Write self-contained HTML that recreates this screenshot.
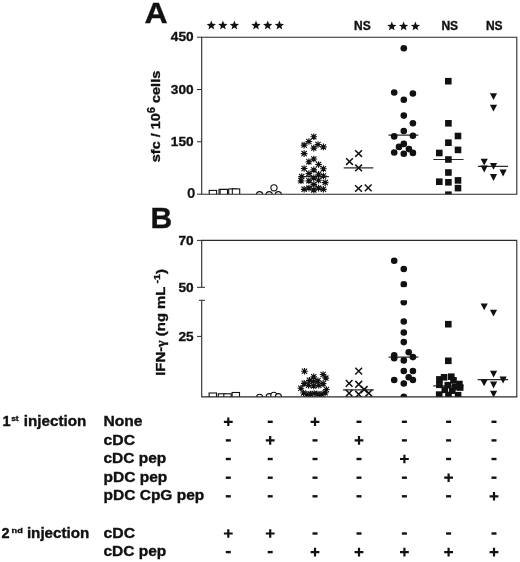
<!DOCTYPE html>
<html><head><meta charset="utf-8"><title>Figure</title>
<style>
html,body{margin:0;padding:0;background:#fff;}
svg{display:block;filter:grayscale(1);}
text{font-family:"Liberation Sans",sans-serif;font-weight:bold;fill:#111;stroke:#111;stroke-width:0.35px;}
</style></head>
<body>
<svg width="520" height="562" viewBox="0 0 520 562">
<rect width="520" height="562" fill="#fff"/>
<clipPath id="ca"><rect x="201.7" y="37.2" width="315.09999999999997" height="157.0"/></clipPath>
<clipPath id="cb"><rect x="201.7" y="240.4" width="315.09999999999997" height="46.900000000000006"/><rect x="201.7" y="300.3" width="315.09999999999997" height="96.59999999999997"/></clipPath>
<g clip-path="url(#ca)">
<rect x="209.2" y="190.4" width="7.4" height="7.4" fill="#fff" stroke="#111" stroke-width="1.1"/>
<rect x="219.0" y="189.4" width="7.4" height="7.4" fill="#fff" stroke="#111" stroke-width="1.1"/>
<rect x="220.1" y="189.4" width="7.4" height="7.4" fill="#fff" stroke="#111" stroke-width="1.1"/>
<rect x="228.7" y="188.9" width="7.4" height="7.4" fill="#fff" stroke="#111" stroke-width="1.1"/>
<rect x="232.3" y="188.9" width="7.4" height="7.4" fill="#fff" stroke="#111" stroke-width="1.1"/>
<circle cx="259.6" cy="194.7" r="3.1" fill="#fff" stroke="#111" stroke-width="1.1"/>
<circle cx="269.2" cy="194.7" r="3.1" fill="#fff" stroke="#111" stroke-width="1.1"/>
<circle cx="278.3" cy="194.7" r="3.1" fill="#fff" stroke="#111" stroke-width="1.1"/>
<circle cx="274.0" cy="187.8" r="3.1" fill="#fff" stroke="#111" stroke-width="1.1"/>
<path d="M298.6 176.6H328.9" stroke="#2a2a2a" stroke-width="1.2"/>
<path d="M310.5 136.7H317.1M313.8 133.4V140.0M311.2 134.1L316.4 139.3M311.2 139.3L316.4 134.1" stroke="#111" stroke-width="1.15" fill="none"/>
<circle cx="313.8" cy="136.7" r="1.5" fill="#111"/>
<path d="M305.6 141.5H312.2M308.9 138.2V144.8M306.3 138.9L311.5 144.1M306.3 144.1L311.5 138.9" stroke="#111" stroke-width="1.15" fill="none"/>
<circle cx="308.9" cy="141.5" r="1.5" fill="#111"/>
<path d="M300.8 145.1H307.4M304.1 141.8V148.4M301.5 142.5L306.7 147.7M301.5 147.7L306.7 142.5" stroke="#111" stroke-width="1.15" fill="none"/>
<circle cx="304.1" cy="145.1" r="1.5" fill="#111"/>
<path d="M314.7 144.5H321.3M318.0 141.2V147.8M315.4 141.9L320.6 147.1M315.4 147.1L320.6 141.9" stroke="#111" stroke-width="1.15" fill="none"/>
<circle cx="318.0" cy="144.5" r="1.5" fill="#111"/>
<path d="M320.1 146.9H326.7M323.4 143.6V150.2M320.8 144.3L326.0 149.5M320.8 149.5L326.0 144.3" stroke="#111" stroke-width="1.15" fill="none"/>
<circle cx="323.4" cy="146.9" r="1.5" fill="#111"/>
<path d="M310.5 148.1H317.1M313.8 144.8V151.4M311.2 145.5L316.4 150.7M311.2 150.7L316.4 145.5" stroke="#111" stroke-width="1.15" fill="none"/>
<circle cx="313.8" cy="148.1" r="1.5" fill="#111"/>
<path d="M300.8 153.6H307.4M304.1 150.3V156.9M301.5 151.0L306.7 156.2M301.5 156.2L306.7 151.0" stroke="#111" stroke-width="1.15" fill="none"/>
<circle cx="304.1" cy="153.6" r="1.5" fill="#111"/>
<path d="M310.5 159.0H317.1M313.8 155.7V162.3M311.2 156.4L316.4 161.6M311.2 161.6L316.4 156.4" stroke="#111" stroke-width="1.15" fill="none"/>
<circle cx="313.8" cy="159.0" r="1.5" fill="#111"/>
<path d="M305.6 161.7H312.2M308.9 158.4V165.0M306.3 159.1L311.5 164.3M306.3 164.3L311.5 159.1" stroke="#111" stroke-width="1.15" fill="none"/>
<circle cx="308.9" cy="161.7" r="1.5" fill="#111"/>
<path d="M315.3 164.5H321.9M318.6 161.2V167.8M316.0 161.9L321.2 167.1M316.0 167.1L321.2 161.9" stroke="#111" stroke-width="1.15" fill="none"/>
<circle cx="318.6" cy="164.5" r="1.5" fill="#111"/>
<path d="M300.8 168.5H307.4M304.1 165.2V171.8M301.5 165.9L306.7 171.1M301.5 171.1L306.7 165.9" stroke="#111" stroke-width="1.15" fill="none"/>
<circle cx="304.1" cy="168.5" r="1.5" fill="#111"/>
<path d="M320.1 168.7H326.7M323.4 165.4V172.0M320.8 166.1L326.0 171.3M320.8 171.3L326.0 166.1" stroke="#111" stroke-width="1.15" fill="none"/>
<circle cx="323.4" cy="168.7" r="1.5" fill="#111"/>
<path d="M310.5 169.9H317.1M313.8 166.6V173.2M311.2 167.3L316.4 172.5M311.2 172.5L316.4 167.3" stroke="#111" stroke-width="1.15" fill="none"/>
<circle cx="313.8" cy="169.9" r="1.5" fill="#111"/>
<path d="M305.6 173.6H312.2M308.9 170.3V176.9M306.3 171.0L311.5 176.2M306.3 176.2L311.5 171.0" stroke="#111" stroke-width="1.15" fill="none"/>
<circle cx="308.9" cy="173.6" r="1.5" fill="#111"/>
<path d="M315.3 174.2H321.9M318.6 170.9V177.5M316.0 171.6L321.2 176.8M316.0 176.8L321.2 171.6" stroke="#111" stroke-width="1.15" fill="none"/>
<circle cx="318.6" cy="174.2" r="1.5" fill="#111"/>
<path d="M298.4 176.6H305.0M301.7 173.3V179.9M299.1 174.0L304.3 179.2M299.1 179.2L304.3 174.0" stroke="#111" stroke-width="1.15" fill="none"/>
<circle cx="301.7" cy="176.6" r="1.5" fill="#111"/>
<path d="M320.1 176.0H326.7M323.4 172.7V179.3M320.8 173.4L326.0 178.6M320.8 178.6L326.0 173.4" stroke="#111" stroke-width="1.15" fill="none"/>
<circle cx="323.4" cy="176.0" r="1.5" fill="#111"/>
<path d="M310.5 177.8H317.1M313.8 174.5V181.1M311.2 175.2L316.4 180.4M311.2 180.4L316.4 175.2" stroke="#111" stroke-width="1.15" fill="none"/>
<circle cx="313.8" cy="177.8" r="1.5" fill="#111"/>
<path d="M297.7 180.8H304.3M301.0 177.5V184.1M298.4 178.2L303.6 183.4M298.4 183.4L303.6 178.2" stroke="#111" stroke-width="1.15" fill="none"/>
<circle cx="301.0" cy="180.8" r="1.5" fill="#111"/>
<path d="M305.6 180.8H312.2M308.9 177.5V184.1M306.3 178.2L311.5 183.4M306.3 183.4L311.5 178.2" stroke="#111" stroke-width="1.15" fill="none"/>
<circle cx="308.9" cy="180.8" r="1.5" fill="#111"/>
<path d="M315.3 180.2H321.9M318.6 176.9V183.5M316.0 177.6L321.2 182.8M316.0 182.8L321.2 177.6" stroke="#111" stroke-width="1.15" fill="none"/>
<circle cx="318.6" cy="180.2" r="1.5" fill="#111"/>
<path d="M321.9 182.6H328.5M325.2 179.3V185.9M322.6 180.0L327.8 185.2M322.6 185.2L327.8 180.0" stroke="#111" stroke-width="1.15" fill="none"/>
<circle cx="325.2" cy="182.6" r="1.5" fill="#111"/>
<path d="M310.5 184.4H317.1M313.8 181.1V187.7M311.2 181.8L316.4 187.0M311.2 187.0L316.4 181.8" stroke="#111" stroke-width="1.15" fill="none"/>
<circle cx="313.8" cy="184.4" r="1.5" fill="#111"/>
<path d="M300.8 189.3H307.4M304.1 186.0V192.6M301.5 186.7L306.7 191.9M301.5 191.9L306.7 186.7" stroke="#111" stroke-width="1.15" fill="none"/>
<circle cx="304.1" cy="189.3" r="1.5" fill="#111"/>
<path d="M305.6 188.1H312.2M308.9 184.8V191.4M306.3 185.5L311.5 190.7M306.3 190.7L311.5 185.5" stroke="#111" stroke-width="1.15" fill="none"/>
<circle cx="308.9" cy="188.1" r="1.5" fill="#111"/>
<path d="M315.3 188.1H321.9M318.6 184.8V191.4M316.0 185.5L321.2 190.7M316.0 190.7L321.2 185.5" stroke="#111" stroke-width="1.15" fill="none"/>
<circle cx="318.6" cy="188.1" r="1.5" fill="#111"/>
<path d="M320.1 189.3H326.7M323.4 186.0V192.6M320.8 186.7L326.0 191.9M320.8 191.9L326.0 186.7" stroke="#111" stroke-width="1.15" fill="none"/>
<circle cx="323.4" cy="189.3" r="1.5" fill="#111"/>
<path d="M310.5 189.9H317.1M313.8 186.6V193.2M311.2 187.3L316.4 192.5M311.2 192.5L316.4 187.3" stroke="#111" stroke-width="1.15" fill="none"/>
<circle cx="313.8" cy="189.9" r="1.5" fill="#111"/>
<path d="M343.7 167.8H373.3" stroke="#2a2a2a" stroke-width="1.2"/>
<path d="M355.2 150.2L362.0 156.9M355.2 156.9L362.0 150.2" stroke="#111" stroke-width="1.5" fill="none"/>
<path d="M346.1 158.2L352.9 164.9M346.1 164.9L352.9 158.2" stroke="#111" stroke-width="1.5" fill="none"/>
<path d="M355.2 164.6L362.0 171.2M355.2 171.2L362.0 164.6" stroke="#111" stroke-width="1.5" fill="none"/>
<path d="M355.1 185.2L361.9 191.8M355.1 191.8L361.9 185.2" stroke="#111" stroke-width="1.5" fill="none"/>
<path d="M364.8 184.5L371.6 191.2M364.8 191.2L371.6 184.5" stroke="#111" stroke-width="1.5" fill="none"/>
<path d="M388.5 135.2H418.3" stroke="#2a2a2a" stroke-width="1.2"/>
<circle cx="403.8" cy="48.3" r="3.3" fill="#111"/>
<circle cx="394.2" cy="92.5" r="3.3" fill="#111"/>
<circle cx="412.9" cy="93.5" r="3.3" fill="#111"/>
<circle cx="403.8" cy="99.8" r="3.3" fill="#111"/>
<circle cx="403.8" cy="115.6" r="3.3" fill="#111"/>
<circle cx="412.9" cy="123.3" r="3.3" fill="#111"/>
<circle cx="403.8" cy="131.0" r="3.3" fill="#111"/>
<circle cx="394.2" cy="136.4" r="3.3" fill="#111"/>
<circle cx="412.9" cy="135.8" r="3.3" fill="#111"/>
<circle cx="403.8" cy="143.9" r="3.3" fill="#111"/>
<circle cx="399.0" cy="146.9" r="3.3" fill="#111"/>
<circle cx="408.9" cy="149.1" r="3.3" fill="#111"/>
<circle cx="394.2" cy="152.5" r="3.3" fill="#111"/>
<circle cx="403.8" cy="153.7" r="3.3" fill="#111"/>
<circle cx="412.9" cy="152.9" r="3.3" fill="#111"/>
<path d="M433.3 159.5H463.5" stroke="#2a2a2a" stroke-width="1.2"/>
<rect x="445.0" y="77.9" width="6.6" height="6.6" fill="#111"/>
<rect x="445.1" y="120.0" width="6.6" height="6.6" fill="#111"/>
<rect x="454.7" y="132.7" width="6.6" height="6.6" fill="#111"/>
<rect x="445.1" y="139.4" width="6.6" height="6.6" fill="#111"/>
<rect x="454.7" y="146.6" width="6.6" height="6.6" fill="#111"/>
<rect x="436.0" y="149.7" width="6.6" height="6.6" fill="#111"/>
<rect x="445.1" y="156.2" width="6.6" height="6.6" fill="#111"/>
<rect x="445.1" y="169.2" width="6.6" height="6.6" fill="#111"/>
<rect x="436.0" y="178.4" width="6.6" height="6.6" fill="#111"/>
<rect x="445.1" y="179.0" width="6.6" height="6.6" fill="#111"/>
<rect x="454.7" y="177.1" width="6.6" height="6.6" fill="#111"/>
<rect x="454.7" y="184.8" width="6.6" height="6.6" fill="#111"/>
<rect x="445.1" y="191.4" width="6.6" height="6.6" fill="#111"/>
<path d="M477.9 166.4H508.0" stroke="#2a2a2a" stroke-width="1.2"/>
<path d="M489.9 93.3H497.1L493.5 100.1Z" fill="#111"/>
<path d="M489.9 104.8H497.1L493.5 111.6Z" fill="#111"/>
<path d="M480.6 158.8H487.8L484.2 165.6Z" fill="#111"/>
<path d="M489.9 163.0H497.1L493.5 169.8Z" fill="#111"/>
<path d="M480.6 165.6H487.8L484.2 172.4Z" fill="#111"/>
<path d="M499.5 169.6H506.7L503.1 176.4Z" fill="#111"/>
<path d="M489.9 174.1H497.1L493.5 180.9Z" fill="#111"/>
</g>
<g clip-path="url(#cb)">
<rect x="209.1" y="393.0" width="7.4" height="7.4" fill="#fff" stroke="#111" stroke-width="1.1"/>
<rect x="218.3" y="393.8" width="7.4" height="7.4" fill="#fff" stroke="#111" stroke-width="1.1"/>
<rect x="223.8" y="393.8" width="7.4" height="7.4" fill="#fff" stroke="#111" stroke-width="1.1"/>
<rect x="232.1" y="392.5" width="7.4" height="7.4" fill="#fff" stroke="#111" stroke-width="1.1"/>
<circle cx="259.6" cy="397.3" r="3.0" fill="#fff" stroke="#111" stroke-width="1.1"/>
<circle cx="269.2" cy="396.6" r="3.0" fill="#fff" stroke="#111" stroke-width="1.1"/>
<circle cx="273.8" cy="395.3" r="3.0" fill="#fff" stroke="#111" stroke-width="1.1"/>
<circle cx="278.4" cy="396.6" r="3.0" fill="#fff" stroke="#111" stroke-width="1.1"/>
<path d="M302.0 385.6H325.0" stroke="#2a2a2a" stroke-width="1.2"/>
<path d="M301.2 371.2H307.8M304.5 367.9V374.5M301.9 368.6L307.1 373.8M301.9 373.8L307.1 368.6" stroke="#111" stroke-width="1.15" fill="none"/>
<circle cx="304.5" cy="371.2" r="1.5" fill="#111"/>
<path d="M319.8 374.5H326.4M323.1 371.2V377.8M320.5 371.9L325.7 377.1M320.5 377.1L325.7 371.9" stroke="#111" stroke-width="1.15" fill="none"/>
<circle cx="323.1" cy="374.5" r="1.5" fill="#111"/>
<path d="M310.4 376.8H317.0M313.7 373.5V380.1M311.1 374.2L316.3 379.4M311.1 379.4L316.3 374.2" stroke="#111" stroke-width="1.15" fill="none"/>
<circle cx="313.7" cy="376.8" r="1.5" fill="#111"/>
<path d="M322.5 378.1H329.1M325.8 374.8V381.4M323.2 375.5L328.4 380.7M323.2 380.7L328.4 375.5" stroke="#111" stroke-width="1.15" fill="none"/>
<circle cx="325.8" cy="378.1" r="1.5" fill="#111"/>
<path d="M300.9 383.3H307.5M304.2 380.0V386.6M301.6 380.7L306.8 385.9M301.6 385.9L306.8 380.7" stroke="#111" stroke-width="1.15" fill="none"/>
<circle cx="304.2" cy="383.3" r="1.5" fill="#111"/>
<path d="M306.1 380.3H312.7M309.4 377.0V383.6M306.8 377.7L312.0 382.9M306.8 382.9L312.0 377.7" stroke="#111" stroke-width="1.15" fill="none"/>
<circle cx="309.4" cy="380.3" r="1.5" fill="#111"/>
<path d="M310.4 381.5H317.0M313.7 378.2V384.8M311.1 378.9L316.3 384.1M311.1 384.1L316.3 378.9" stroke="#111" stroke-width="1.15" fill="none"/>
<circle cx="313.7" cy="381.5" r="1.5" fill="#111"/>
<path d="M314.6 380.7H321.2M317.9 377.4V384.0M315.3 378.1L320.5 383.3M315.3 383.3L320.5 378.1" stroke="#111" stroke-width="1.15" fill="none"/>
<circle cx="317.9" cy="380.7" r="1.5" fill="#111"/>
<path d="M319.8 383.6H326.4M323.1 380.3V386.9M320.5 381.0L325.7 386.2M320.5 386.2L325.7 381.0" stroke="#111" stroke-width="1.15" fill="none"/>
<circle cx="323.1" cy="383.6" r="1.5" fill="#111"/>
<path d="M297.6 388.2H304.2M300.9 384.9V391.5M298.3 385.6L303.5 390.8M298.3 390.8L303.5 385.6" stroke="#111" stroke-width="1.15" fill="none"/>
<circle cx="300.9" cy="388.2" r="1.5" fill="#111"/>
<path d="M310.4 385.9H317.0M313.7 382.6V389.2M311.1 383.3L316.3 388.5M311.1 388.5L316.3 383.3" stroke="#111" stroke-width="1.15" fill="none"/>
<circle cx="313.7" cy="385.9" r="1.5" fill="#111"/>
<path d="M305.3 385.3H311.9M308.6 382.0V388.6M306.0 382.7L311.2 387.9M306.0 387.9L311.2 382.7" stroke="#111" stroke-width="1.15" fill="none"/>
<circle cx="308.6" cy="385.3" r="1.5" fill="#111"/>
<path d="M315.5 385.3H322.1M318.8 382.0V388.6M316.2 382.7L321.4 387.9M316.2 387.9L321.4 382.7" stroke="#111" stroke-width="1.15" fill="none"/>
<circle cx="318.8" cy="385.3" r="1.5" fill="#111"/>
<path d="M323.1 389.5H329.7M326.4 386.2V392.8M323.8 386.9L329.0 392.1M323.8 392.1L329.0 386.9" stroke="#111" stroke-width="1.15" fill="none"/>
<circle cx="326.4" cy="389.5" r="1.5" fill="#111"/>
<path d="M300.2 393.0H306.8M303.5 389.7V396.3M300.9 390.4L306.1 395.6M300.9 395.6L306.1 390.4" stroke="#111" stroke-width="1.15" fill="none"/>
<circle cx="303.5" cy="393.0" r="1.5" fill="#111"/>
<path d="M321.8 392.8H328.4M325.1 389.5V396.1M322.5 390.2L327.7 395.4M322.5 395.4L327.7 390.2" stroke="#111" stroke-width="1.15" fill="none"/>
<circle cx="325.1" cy="392.8" r="1.5" fill="#111"/>
<path d="M303.5 394.3H310.1M306.8 391.0V397.6M304.2 391.7L309.4 396.9M304.2 396.9L309.4 391.7" stroke="#111" stroke-width="1.15" fill="none"/>
<circle cx="306.8" cy="394.3" r="1.5" fill="#111"/>
<path d="M307.1 394.0H313.7M310.4 390.7V397.3M307.8 391.4L313.0 396.6M307.8 396.6L313.0 391.4" stroke="#111" stroke-width="1.15" fill="none"/>
<circle cx="310.4" cy="394.0" r="1.5" fill="#111"/>
<path d="M310.9 393.6H317.5M314.2 390.3V396.9M311.6 391.0L316.8 396.2M311.6 396.2L316.8 391.0" stroke="#111" stroke-width="1.15" fill="none"/>
<circle cx="314.2" cy="393.6" r="1.5" fill="#111"/>
<path d="M314.7 394.0H321.3M318.0 390.7V397.3M315.4 391.4L320.6 396.6M315.4 396.6L320.6 391.4" stroke="#111" stroke-width="1.15" fill="none"/>
<circle cx="318.0" cy="394.0" r="1.5" fill="#111"/>
<path d="M318.5 394.3H325.1M321.8 391.0V397.6M319.2 391.7L324.4 396.9M319.2 396.9L324.4 391.7" stroke="#111" stroke-width="1.15" fill="none"/>
<circle cx="321.8" cy="394.3" r="1.5" fill="#111"/>
<path d="M343.0 389.8H373.8" stroke="#2a2a2a" stroke-width="1.2"/>
<path d="M355.3 367.8L362.1 374.5M355.3 374.5L362.1 367.8" stroke="#111" stroke-width="1.5" fill="none"/>
<path d="M345.8 380.0L352.5 386.8M345.8 386.8L352.5 380.0" stroke="#111" stroke-width="1.5" fill="none"/>
<path d="M355.3 380.9L362.1 387.7M355.3 387.7L362.1 380.9" stroke="#111" stroke-width="1.5" fill="none"/>
<path d="M345.8 389.8L352.5 396.6M345.8 396.6L352.5 389.8" stroke="#111" stroke-width="1.5" fill="none"/>
<path d="M355.3 390.9L362.1 397.7M355.3 397.7L362.1 390.9" stroke="#111" stroke-width="1.5" fill="none"/>
<path d="M360.8 386.1L367.6 392.9M360.8 392.9L367.6 386.1" stroke="#111" stroke-width="1.5" fill="none"/>
<path d="M365.4 389.8L372.2 396.6M365.4 396.6L372.2 389.8" stroke="#111" stroke-width="1.5" fill="none"/>
<path d="M388.5 357.1H418.3" stroke="#2a2a2a" stroke-width="1.2"/>
<circle cx="394.2" cy="260.8" r="3.3" fill="#111"/>
<circle cx="403.8" cy="269.0" r="3.3" fill="#111"/>
<circle cx="403.8" cy="284.4" r="3.3" fill="#111"/>
<circle cx="403.8" cy="302.3" r="3.3" fill="#111"/>
<circle cx="403.8" cy="321.5" r="3.3" fill="#111"/>
<circle cx="403.8" cy="332.5" r="3.3" fill="#111"/>
<circle cx="403.8" cy="342.1" r="3.3" fill="#111"/>
<circle cx="408.7" cy="352.3" r="3.3" fill="#111"/>
<circle cx="394.2" cy="355.2" r="3.3" fill="#111"/>
<circle cx="394.2" cy="358.2" r="3.3" fill="#111"/>
<circle cx="412.9" cy="357.1" r="3.3" fill="#111"/>
<circle cx="403.8" cy="360.4" r="3.3" fill="#111"/>
<circle cx="403.8" cy="371.0" r="3.3" fill="#111"/>
<circle cx="412.9" cy="371.0" r="3.3" fill="#111"/>
<circle cx="408.7" cy="377.3" r="3.3" fill="#111"/>
<circle cx="394.2" cy="380.0" r="3.3" fill="#111"/>
<circle cx="412.9" cy="380.0" r="3.3" fill="#111"/>
<circle cx="403.8" cy="383.5" r="3.3" fill="#111"/>
<circle cx="403.8" cy="396.7" r="3.3" fill="#111"/>
<path d="M433.3 385.8H463.5" stroke="#2a2a2a" stroke-width="1.2"/>
<rect x="445.0" y="320.9" width="6.6" height="6.6" fill="#111"/>
<rect x="445.0" y="357.5" width="6.6" height="6.6" fill="#111"/>
<rect x="436.1" y="376.1" width="6.6" height="6.6" fill="#111"/>
<rect x="440.8" y="374.0" width="6.6" height="6.6" fill="#111"/>
<rect x="448.0" y="373.4" width="6.6" height="6.6" fill="#111"/>
<rect x="450.2" y="377.1" width="6.6" height="6.6" fill="#111"/>
<rect x="436.1" y="381.5" width="6.6" height="6.6" fill="#111"/>
<rect x="444.5" y="381.9" width="6.6" height="6.6" fill="#111"/>
<rect x="456.1" y="380.7" width="6.6" height="6.6" fill="#111"/>
<rect x="456.9" y="384.2" width="6.6" height="6.6" fill="#111"/>
<rect x="449.0" y="387.3" width="6.6" height="6.6" fill="#111"/>
<rect x="441.5" y="386.5" width="6.6" height="6.6" fill="#111"/>
<rect x="435.9" y="391.3" width="6.6" height="6.6" fill="#111"/>
<rect x="445.2" y="391.7" width="6.6" height="6.6" fill="#111"/>
<rect x="454.8" y="391.9" width="6.6" height="6.6" fill="#111"/>
<rect x="451.7" y="383.7" width="6.6" height="6.6" fill="#111"/>
<path d="M477.7 379.6H508.0" stroke="#2a2a2a" stroke-width="1.2"/>
<path d="M480.6 303.5H487.8L484.2 310.3Z" fill="#111"/>
<path d="M489.9 309.8H497.1L493.5 316.6Z" fill="#111"/>
<path d="M490.0 370.8H497.2L493.6 377.6Z" fill="#111"/>
<path d="M499.5 376.6H506.7L503.1 383.4Z" fill="#111"/>
<path d="M480.5 379.4H487.7L484.1 386.2Z" fill="#111"/>
<path d="M490.0 381.6H497.2L493.6 388.4Z" fill="#111"/>
<path d="M490.0 390.7H497.2L493.6 397.5Z" fill="#111"/>
</g>
<path d="M201.7 37.2H516.8V194.2H201.7Z" fill="none" stroke="#2a2a2a" stroke-width="1.1"/>
<path d="M197.0 37.2H201.7" stroke="#2a2a2a" stroke-width="1.0"/>
<path d="M197.0 89.5H201.7" stroke="#2a2a2a" stroke-width="1.0"/>
<path d="M197.0 141.8H201.7" stroke="#2a2a2a" stroke-width="1.0"/>
<path d="M197.0 194.2H201.7" stroke="#2a2a2a" stroke-width="1.0"/>
<path d="M201.7 287.3V240.4H516.8V396.9H201.7V300.3" fill="none" stroke="#2a2a2a" stroke-width="1.1"/>
<path d="M197.0 240.4H201.7" stroke="#2a2a2a" stroke-width="1.0"/>
<path d="M197.0 287.3H205.0" stroke="#2a2a2a" stroke-width="1.0"/>
<path d="M199.0 300.3H205.0" stroke="#2a2a2a" stroke-width="1.0"/>
<path d="M197.0 336.4H201.7" stroke="#2a2a2a" stroke-width="1.0"/>
<text x="193.6" y="41.45" font-size="13.5" text-anchor="end" textLength="22.8" lengthAdjust="spacingAndGlyphs">450</text>
<text x="193.6" y="93.75" font-size="13.5" text-anchor="end" textLength="22.8" lengthAdjust="spacingAndGlyphs">300</text>
<text x="193.6" y="146.05" font-size="13.5" text-anchor="end" textLength="22.8" lengthAdjust="spacingAndGlyphs">150</text>
<text x="195.4" y="198.0" font-size="15" text-anchor="end" style="stroke-width:0.1px">0</text>
<text x="193.6" y="244.65" font-size="13.5" text-anchor="end" textLength="15.2" lengthAdjust="spacingAndGlyphs">70</text>
<text x="193.6" y="291.55" font-size="13.5" text-anchor="end" textLength="15.2" lengthAdjust="spacingAndGlyphs">50</text>
<text x="193.6" y="340.65" font-size="13.5" text-anchor="end" textLength="15.2" lengthAdjust="spacingAndGlyphs">25</text>
<text transform="translate(144.4 22.7) scale(1.07 1)" font-size="30">A</text>
<text transform="translate(150.5 228.2) scale(1.0 1)" font-size="30">B</text>
<text transform="translate(159.6 162.2) rotate(-90)" font-size="13" textLength="91.4" lengthAdjust="spacingAndGlyphs">sfc / 10<tspan font-size="10" dy="-4.5">6</tspan><tspan dy="4.5"> cells</tspan></text>
<text transform="translate(164.9 375.8) rotate(-90)" font-size="13.2" textLength="106.7" lengthAdjust="spacingAndGlyphs">IFN-<tspan font-family="Liberation Serif" font-size="12.5">γ</tspan> (ng mL<tspan font-size="9.5" dy="-4.5"> -1</tspan><tspan dy="4.5">)</tspan></text>
<polygon points="211.30,20.60 212.54,23.80 215.96,23.99 213.30,26.15 214.18,29.46 211.30,27.61 208.42,29.46 209.30,26.15 206.64,23.99 210.06,23.80" fill="#111"/>
<polygon points="222.90,20.60 224.14,23.80 227.56,23.99 224.90,26.15 225.78,29.46 222.90,27.61 220.02,29.46 220.90,26.15 218.24,23.99 221.66,23.80" fill="#111"/>
<polygon points="234.40,20.60 235.64,23.80 239.06,23.99 236.40,26.15 237.28,29.46 234.40,27.61 231.52,29.46 232.40,26.15 229.74,23.99 233.16,23.80" fill="#111"/>
<polygon points="256.00,20.60 257.24,23.80 260.66,23.99 258.00,26.15 258.88,29.46 256.00,27.61 253.12,29.46 254.00,26.15 251.34,23.99 254.76,23.80" fill="#111"/>
<polygon points="267.70,20.60 268.94,23.80 272.36,23.99 269.70,26.15 270.58,29.46 267.70,27.61 264.82,29.46 265.70,26.15 263.04,23.99 266.46,23.80" fill="#111"/>
<polygon points="279.40,20.60 280.64,23.80 284.06,23.99 281.40,26.15 282.28,29.46 279.40,27.61 276.52,29.46 277.40,26.15 274.74,23.99 278.16,23.80" fill="#111"/>
<polygon points="391.80,21.50 393.04,24.70 396.46,24.89 393.80,27.05 394.68,30.36 391.80,28.51 388.92,30.36 389.80,27.05 387.14,24.89 390.56,24.70" fill="#111"/>
<polygon points="403.60,21.50 404.84,24.70 408.26,24.89 405.60,27.05 406.48,30.36 403.60,28.51 400.72,30.36 401.60,27.05 398.94,24.89 402.36,24.70" fill="#111"/>
<polygon points="415.40,21.50 416.64,24.70 420.06,24.89 417.40,27.05 418.28,30.36 415.40,28.51 412.52,30.36 413.40,27.05 410.74,24.89 414.16,24.70" fill="#111"/>
<text x="362.4" y="29.6" font-size="12" text-anchor="middle" >NS</text>
<text x="449.8" y="29.6" font-size="12" text-anchor="middle" >NS</text>
<text x="494.3" y="29.6" font-size="12" text-anchor="middle" >NS</text>
<text x="103.5" y="426.00" font-size="14.5" textLength="39.05" lengthAdjust="spacingAndGlyphs">None</text>
<text x="103.5" y="444.62" font-size="14.5" textLength="31.55" lengthAdjust="spacingAndGlyphs">cDC</text>
<text x="103.5" y="463.24" font-size="14.5" textLength="62.8" lengthAdjust="spacingAndGlyphs">cDC pep</text>
<text x="103.5" y="481.86" font-size="14.5" textLength="63.8" lengthAdjust="spacingAndGlyphs">pDC pep</text>
<text x="103.5" y="500.48" font-size="14.5" textLength="100.8" lengthAdjust="spacingAndGlyphs">pDC CpG pep</text>
<text x="103.5" y="537.72" font-size="14.5" textLength="31.55" lengthAdjust="spacingAndGlyphs">cDC</text>
<text x="103.5" y="556.34" font-size="14.5" textLength="62.8" lengthAdjust="spacingAndGlyphs">cDC pep</text>
<text x="2.6" y="426.00" font-size="14.5">1</text>
<text x="11.2" y="420.80" font-size="7.8" textLength="7.5" lengthAdjust="spacingAndGlyphs">st</text>
<text x="23.8" y="426.00" font-size="14.5" textLength="62.5" lengthAdjust="spacingAndGlyphs">injection</text>
<text x="1.5" y="537.72" font-size="14.5">2</text>
<text x="11.6" y="532.52" font-size="7.8" textLength="11.2" lengthAdjust="spacingAndGlyphs">nd</text>
<text x="26.9" y="537.72" font-size="14.5" textLength="62.5" lengthAdjust="spacingAndGlyphs">injection</text>
<path d="M223.9 421.8H232.7M228.3 417.5V426.1" stroke="#111" stroke-width="2.2"/>
<path d="M267.7 421.8H272.7" stroke="#111" stroke-width="2.4"/>
<path d="M310.6 421.8H319.4M315.0 417.5V426.1" stroke="#111" stroke-width="2.2"/>
<path d="M356.5 421.8H361.5" stroke="#111" stroke-width="2.4"/>
<path d="M401.9 421.8H406.9" stroke="#111" stroke-width="2.4"/>
<path d="M446.1 421.8H451.1" stroke="#111" stroke-width="2.4"/>
<path d="M491.5 421.8H496.5" stroke="#111" stroke-width="2.4"/>
<path d="M225.8 440.4H230.8" stroke="#111" stroke-width="2.4"/>
<path d="M265.8 440.4H274.6M270.2 436.1V444.7" stroke="#111" stroke-width="2.2"/>
<path d="M312.5 440.4H317.5" stroke="#111" stroke-width="2.4"/>
<path d="M354.6 440.4H363.4M359.0 436.1V444.7" stroke="#111" stroke-width="2.2"/>
<path d="M401.9 440.4H406.9" stroke="#111" stroke-width="2.4"/>
<path d="M446.1 440.4H451.1" stroke="#111" stroke-width="2.4"/>
<path d="M491.5 440.4H496.5" stroke="#111" stroke-width="2.4"/>
<path d="M225.8 459.0H230.8" stroke="#111" stroke-width="2.4"/>
<path d="M267.7 459.0H272.7" stroke="#111" stroke-width="2.4"/>
<path d="M312.5 459.0H317.5" stroke="#111" stroke-width="2.4"/>
<path d="M356.5 459.0H361.5" stroke="#111" stroke-width="2.4"/>
<path d="M400.0 459.0H408.8M404.4 454.7V463.3" stroke="#111" stroke-width="2.2"/>
<path d="M446.1 459.0H451.1" stroke="#111" stroke-width="2.4"/>
<path d="M491.5 459.0H496.5" stroke="#111" stroke-width="2.4"/>
<path d="M225.8 477.7H230.8" stroke="#111" stroke-width="2.4"/>
<path d="M267.7 477.7H272.7" stroke="#111" stroke-width="2.4"/>
<path d="M312.5 477.7H317.5" stroke="#111" stroke-width="2.4"/>
<path d="M356.5 477.7H361.5" stroke="#111" stroke-width="2.4"/>
<path d="M401.9 477.7H406.9" stroke="#111" stroke-width="2.4"/>
<path d="M444.2 477.7H453.0M448.6 473.4V482.0" stroke="#111" stroke-width="2.2"/>
<path d="M491.5 477.7H496.5" stroke="#111" stroke-width="2.4"/>
<path d="M225.8 496.3H230.8" stroke="#111" stroke-width="2.4"/>
<path d="M267.7 496.3H272.7" stroke="#111" stroke-width="2.4"/>
<path d="M312.5 496.3H317.5" stroke="#111" stroke-width="2.4"/>
<path d="M356.5 496.3H361.5" stroke="#111" stroke-width="2.4"/>
<path d="M401.9 496.3H406.9" stroke="#111" stroke-width="2.4"/>
<path d="M446.1 496.3H451.1" stroke="#111" stroke-width="2.4"/>
<path d="M489.6 496.3H498.4M494.0 492.0V500.6" stroke="#111" stroke-width="2.2"/>
<path d="M223.9 533.5H232.7M228.3 529.2V537.8" stroke="#111" stroke-width="2.2"/>
<path d="M265.8 533.5H274.6M270.2 529.2V537.8" stroke="#111" stroke-width="2.2"/>
<path d="M312.5 533.5H317.5" stroke="#111" stroke-width="2.4"/>
<path d="M356.5 533.5H361.5" stroke="#111" stroke-width="2.4"/>
<path d="M401.9 533.5H406.9" stroke="#111" stroke-width="2.4"/>
<path d="M446.1 533.5H451.1" stroke="#111" stroke-width="2.4"/>
<path d="M491.5 533.5H496.5" stroke="#111" stroke-width="2.4"/>
<path d="M225.8 552.1H230.8" stroke="#111" stroke-width="2.4"/>
<path d="M267.7 552.1H272.7" stroke="#111" stroke-width="2.4"/>
<path d="M310.6 552.1H319.4M315.0 547.8V556.4" stroke="#111" stroke-width="2.2"/>
<path d="M354.6 552.1H363.4M359.0 547.8V556.4" stroke="#111" stroke-width="2.2"/>
<path d="M400.0 552.1H408.8M404.4 547.8V556.4" stroke="#111" stroke-width="2.2"/>
<path d="M444.2 552.1H453.0M448.6 547.8V556.4" stroke="#111" stroke-width="2.2"/>
<path d="M489.6 552.1H498.4M494.0 547.8V556.4" stroke="#111" stroke-width="2.2"/>
</svg>
</body></html>
